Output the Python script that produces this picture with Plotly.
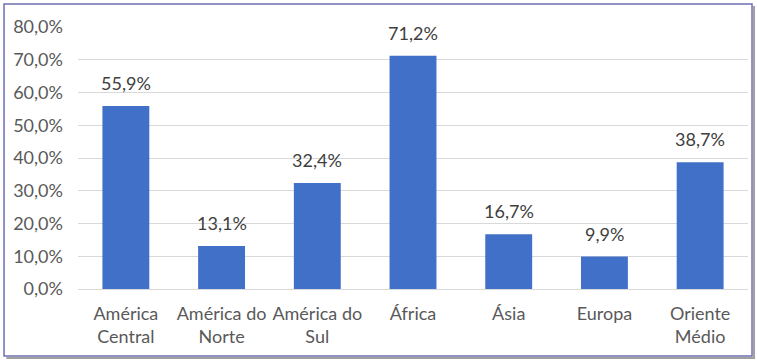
import plotly.graph_objects as go

categories = ["América<br>Central", "América do<br>Norte", "América do<br>Sul", "África", "Ásia", "Europa", "Oriente<br>Médio"]
values = [0.559, 0.131, 0.324, 0.712, 0.167, 0.099, 0.387]
tick_vals = [0, 0.1, 0.2, 0.3, 0.4, 0.5, 0.6, 0.7, 0.8]

fig = go.Figure(go.Bar(
    x=categories, y=values,
    marker=dict(color="#4170C8", line=dict(width=0)),
    cliponaxis=False,
    hoverinfo="skip",
))

for c, v in zip(categories, values):
    fig.add_annotation(x=c, y=v, text=f"{v*100:.1f}%".replace(".", ","), showarrow=False,
                       yanchor="bottom", yshift=10,
                       font=dict(family="Lato", size=18, color="#404040"))

fig.update_layout(
    width=757, height=364,
    margin=dict(l=78, r=9, t=27, b=75),
    paper_bgcolor="white", plot_bgcolor="white",
    separators=",.",
    bargap=0.51,
    showlegend=False,
    font=dict(family="Lato", size=18, color="#595959"),
    xaxis=dict(showgrid=False, showline=True, linecolor="#D9D9D9", automargin=False,
               ticklabelstandoff=8,
               tickfont=dict(size=18, color="#595959"), ticks=""),
    yaxis=dict(range=[0, 0.8], tickvals=tick_vals, tickformat=".1%", showgrid=True, gridcolor="#D9D9D9",
               automargin=False, zeroline=False, ticks="", ticklabelstandoff=14,
               tickfont=dict(size=18, color="#595959")),
    shapes=[
        dict(type="path", xref="paper", yref="paper",
             path="M -0.107,-0.263 L 1.009,-0.263 L 1.009,1.080",
             line=dict(color="#A0A0A0", width=2), layer="below"),
        dict(type="rect", xref="paper", yref="paper", x0=-0.1104, x1=1.006, y0=-0.2557, y1=1.0878,
             line=dict(color="#6E6EB0", width=1.5), layer="below"),
    ],
)

fig.write_html("out.html", post_script="document.body.style.margin='0';",
               config={"displayModeBar": False})
